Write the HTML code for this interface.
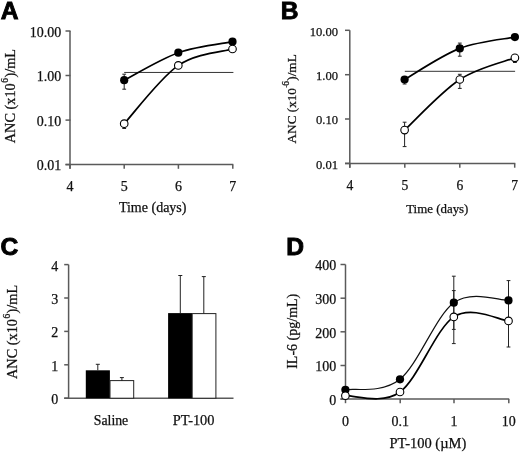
<!DOCTYPE html>
<html><head><meta charset="utf-8"><style>
html,body{margin:0;padding:0;background:#fff;}
body{width:520px;height:452px;overflow:hidden;}
svg{display:block;font-family:"Liberation Serif",serif;fill:#111;}
#wrap{width:520px;height:452px;filter:grayscale(1);}
text{fill:#111;stroke:#111;stroke-width:0.25px;}
</style></head><body>
<div id="wrap"><svg width="520" height="452" viewBox="0 0 520 452">
<rect width="520" height="452" fill="#fff"/>
<text x="0.80" y="19.10" font-family="Liberation Sans" font-weight="bold" font-size="24.6" style="stroke:#000;stroke-width:0.9px;fill:#000">A</text>
<line x1="70.00" y1="31.00" x2="70.00" y2="168.80" stroke="#5a5a5a" stroke-width="1.50"/>
<line x1="65.50" y1="164.60" x2="233.30" y2="164.60" stroke="#5a5a5a" stroke-width="1.50"/>
<line x1="65.50" y1="31.00" x2="70.50" y2="31.00" stroke="#5a5a5a" stroke-width="1.50"/>
<text x="61.20" y="36.80" font-size="14.00" text-anchor="end" >10.00</text>
<line x1="65.50" y1="75.50" x2="70.50" y2="75.50" stroke="#5a5a5a" stroke-width="1.50"/>
<text x="61.20" y="81.30" font-size="14.00" text-anchor="end" >1.00</text>
<line x1="65.50" y1="120.10" x2="70.50" y2="120.10" stroke="#5a5a5a" stroke-width="1.50"/>
<text x="61.20" y="125.90" font-size="14.00" text-anchor="end" >0.10</text>
<line x1="65.50" y1="164.60" x2="70.50" y2="164.60" stroke="#5a5a5a" stroke-width="1.50"/>
<text x="61.20" y="170.40" font-size="14.00" text-anchor="end" >0.01</text>
<line x1="70.00" y1="164.60" x2="70.00" y2="168.80" stroke="#5a5a5a" stroke-width="1.50"/>
<text x="70.00" y="190.70" font-size="14.00" text-anchor="middle" >4</text>
<line x1="124.20" y1="164.60" x2="124.20" y2="168.80" stroke="#5a5a5a" stroke-width="1.50"/>
<text x="124.20" y="190.70" font-size="14.00" text-anchor="middle" >5</text>
<line x1="178.40" y1="164.60" x2="178.40" y2="168.80" stroke="#5a5a5a" stroke-width="1.50"/>
<text x="178.40" y="190.70" font-size="14.00" text-anchor="middle" >6</text>
<line x1="232.80" y1="164.60" x2="232.80" y2="168.80" stroke="#5a5a5a" stroke-width="1.50"/>
<text x="232.80" y="190.70" font-size="14.00" text-anchor="middle" >7</text>
<text x="152.70" y="211.70" font-size="14.00" text-anchor="middle" >Time (days)</text>
<text transform="translate(15,143.2) rotate(-90)" font-size="14.3">ANC (x10<tspan dy="-7" font-size="9.5" dx="0.6">6</tspan><tspan dy="7" dx="0.3">)/mL</tspan></text>
<line x1="124.20" y1="72.45" x2="233.40" y2="72.45" stroke="#333" stroke-width="1.00"/>
<line x1="124.20" y1="74.20" x2="124.20" y2="89.20" stroke="#222" stroke-width="1.00"/>
<line x1="122.30" y1="74.20" x2="126.10" y2="74.20" stroke="#222" stroke-width="1.00"/>
<line x1="122.30" y1="89.20" x2="126.10" y2="89.20" stroke="#222" stroke-width="1.00"/>
<line x1="124.20" y1="123.70" x2="124.20" y2="128.50" stroke="#222" stroke-width="1.00"/>
<line x1="122.30" y1="123.70" x2="126.10" y2="123.70" stroke="#222" stroke-width="1.00"/>
<line x1="122.30" y1="128.50" x2="126.10" y2="128.50" stroke="#222" stroke-width="1.00"/>
<path d="M124.20,80.20 C133.22,75.62 160.25,59.12 178.30,52.70 C196.35,46.28 223.47,43.53 232.50,41.70" fill="none" stroke="#000" stroke-width="1.7"/>
<path d="M124.20,123.70 C133.22,113.98 160.25,77.85 178.30,65.40 C196.35,52.95 223.47,51.73 232.50,49.00" fill="none" stroke="#000" stroke-width="1.7"/>
<circle cx="124.20" cy="80.20" r="4.10" fill="#000"/>
<circle cx="178.30" cy="52.70" r="4.10" fill="#000"/>
<circle cx="232.50" cy="41.70" r="4.10" fill="#000"/>
<circle cx="124.20" cy="123.70" r="3.80" fill="#fff" stroke="#000" stroke-width="1.1"/>
<circle cx="178.30" cy="65.40" r="3.80" fill="#fff" stroke="#000" stroke-width="1.1"/>
<circle cx="232.50" cy="49.00" r="3.80" fill="#fff" stroke="#000" stroke-width="1.1"/>
<text x="280.80" y="18.90" font-family="Liberation Sans" font-weight="bold" font-size="24.6" style="stroke:#000;stroke-width:0.9px;fill:#000">B</text>
<line x1="349.80" y1="30.30" x2="349.80" y2="167.70" stroke="#5a5a5a" stroke-width="1.50"/>
<line x1="345.00" y1="163.40" x2="515.30" y2="163.40" stroke="#5a5a5a" stroke-width="1.50"/>
<line x1="345.00" y1="30.30" x2="349.80" y2="30.30" stroke="#5a5a5a" stroke-width="1.50"/>
<text x="338.00" y="35.70" font-size="12.60" text-anchor="end" >10.00</text>
<line x1="345.00" y1="74.70" x2="349.80" y2="74.70" stroke="#5a5a5a" stroke-width="1.50"/>
<text x="338.00" y="80.10" font-size="12.60" text-anchor="end" >1.00</text>
<line x1="345.00" y1="119.00" x2="349.80" y2="119.00" stroke="#5a5a5a" stroke-width="1.50"/>
<text x="338.00" y="124.40" font-size="12.60" text-anchor="end" >0.10</text>
<line x1="345.00" y1="163.40" x2="349.80" y2="163.40" stroke="#5a5a5a" stroke-width="1.50"/>
<text x="338.00" y="168.80" font-size="12.60" text-anchor="end" >0.01</text>
<line x1="349.80" y1="163.40" x2="349.80" y2="167.70" stroke="#5a5a5a" stroke-width="1.50"/>
<text x="349.80" y="190.30" font-size="13.60" text-anchor="middle" >4</text>
<line x1="404.80" y1="163.40" x2="404.80" y2="167.70" stroke="#5a5a5a" stroke-width="1.50"/>
<text x="404.80" y="190.30" font-size="13.60" text-anchor="middle" >5</text>
<line x1="459.80" y1="163.40" x2="459.80" y2="167.70" stroke="#5a5a5a" stroke-width="1.50"/>
<text x="459.80" y="190.30" font-size="13.60" text-anchor="middle" >6</text>
<line x1="514.70" y1="163.40" x2="514.70" y2="167.70" stroke="#5a5a5a" stroke-width="1.50"/>
<text x="514.70" y="190.30" font-size="13.60" text-anchor="middle" >7</text>
<text x="437.30" y="212.70" font-size="12.90" text-anchor="middle" >Time (days)</text>
<text transform="translate(295.8,143.4) rotate(-90)" font-size="13.2">ANC (x10<tspan dy="-8.2" font-size="7" dx="0.3">-</tspan><tspan dy="1.5" font-size="9.5" dx="-0.2">6</tspan><tspan dy="6.7" dx="0.2">)/mL</tspan></text>
<line x1="404.80" y1="71.30" x2="515.10" y2="71.30" stroke="#333" stroke-width="1.00"/>
<line x1="404.60" y1="79.50" x2="404.60" y2="84.00" stroke="#222" stroke-width="1.00"/>
<line x1="402.70" y1="79.50" x2="406.50" y2="79.50" stroke="#222" stroke-width="1.00"/>
<line x1="402.70" y1="84.00" x2="406.50" y2="84.00" stroke="#222" stroke-width="1.00"/>
<line x1="459.80" y1="43.10" x2="459.80" y2="56.20" stroke="#222" stroke-width="1.00"/>
<line x1="457.90" y1="43.10" x2="461.70" y2="43.10" stroke="#222" stroke-width="1.00"/>
<line x1="457.90" y1="56.20" x2="461.70" y2="56.20" stroke="#222" stroke-width="1.00"/>
<line x1="404.60" y1="122.20" x2="404.60" y2="146.60" stroke="#222" stroke-width="1.00"/>
<line x1="402.70" y1="122.20" x2="406.50" y2="122.20" stroke="#222" stroke-width="1.00"/>
<line x1="402.70" y1="146.60" x2="406.50" y2="146.60" stroke="#222" stroke-width="1.00"/>
<line x1="459.80" y1="74.30" x2="459.80" y2="88.40" stroke="#222" stroke-width="1.00"/>
<line x1="457.90" y1="74.30" x2="461.70" y2="74.30" stroke="#222" stroke-width="1.00"/>
<line x1="457.90" y1="88.40" x2="461.70" y2="88.40" stroke="#222" stroke-width="1.00"/>
<line x1="514.90" y1="57.80" x2="514.90" y2="62.50" stroke="#222" stroke-width="1.00"/>
<line x1="513.00" y1="57.80" x2="516.80" y2="57.80" stroke="#222" stroke-width="1.00"/>
<line x1="513.00" y1="62.50" x2="516.80" y2="62.50" stroke="#222" stroke-width="1.00"/>
<path d="M404.60,79.50 C413.80,74.32 441.42,55.47 459.80,48.40 C478.18,41.33 505.72,38.98 514.90,37.10" fill="none" stroke="#000" stroke-width="1.7"/>
<path d="M404.60,130.10 C413.80,121.67 441.42,91.55 459.80,79.50 C478.18,67.45 505.72,61.42 514.90,57.80" fill="none" stroke="#000" stroke-width="1.7"/>
<circle cx="404.60" cy="79.50" r="4.10" fill="#000"/>
<circle cx="459.80" cy="48.40" r="4.10" fill="#000"/>
<circle cx="514.90" cy="37.10" r="4.10" fill="#000"/>
<circle cx="404.60" cy="130.10" r="3.80" fill="#fff" stroke="#000" stroke-width="1.1"/>
<circle cx="459.80" cy="79.50" r="3.80" fill="#fff" stroke="#000" stroke-width="1.1"/>
<circle cx="514.90" cy="57.80" r="3.80" fill="#fff" stroke="#000" stroke-width="1.1"/>
<text x="0.50" y="255.10" font-family="Liberation Sans" font-weight="bold" font-size="24.6" style="stroke:#000;stroke-width:0.9px;fill:#000">C</text>
<line x1="68.60" y1="264.60" x2="68.60" y2="398.20" stroke="#5a5a5a" stroke-width="1.50"/>
<line x1="64.20" y1="398.20" x2="233.50" y2="398.20" stroke="#5a5a5a" stroke-width="1.50"/>
<line x1="64.20" y1="398.20" x2="68.60" y2="398.20" stroke="#5a5a5a" stroke-width="1.50"/>
<text x="58.30" y="404.10" font-size="14.00" text-anchor="end" >0</text>
<line x1="64.20" y1="364.80" x2="68.60" y2="364.80" stroke="#5a5a5a" stroke-width="1.50"/>
<text x="58.30" y="370.70" font-size="14.00" text-anchor="end" >1</text>
<line x1="64.20" y1="331.40" x2="68.60" y2="331.40" stroke="#5a5a5a" stroke-width="1.50"/>
<text x="58.30" y="337.30" font-size="14.00" text-anchor="end" >2</text>
<line x1="64.20" y1="298.00" x2="68.60" y2="298.00" stroke="#5a5a5a" stroke-width="1.50"/>
<text x="58.30" y="303.90" font-size="14.00" text-anchor="end" >3</text>
<line x1="64.20" y1="264.60" x2="68.60" y2="264.60" stroke="#5a5a5a" stroke-width="1.50"/>
<text x="58.30" y="270.50" font-size="14.00" text-anchor="end" >4</text>
<rect x="85.8" y="370.3" width="24.1" height="28" fill="#000"/>
<rect x="110.0" y="380.6" width="23.7" height="17.6" fill="#fff" stroke="#222" stroke-width="1"/>
<rect x="168.1" y="313.1" width="23.9" height="85.2" fill="#000"/>
<rect x="192.2" y="313.6" width="23.7" height="84.6" fill="#fff" stroke="#222" stroke-width="1"/>
<line x1="97.80" y1="364.30" x2="97.80" y2="370.30" stroke="#222" stroke-width="1.00"/>
<line x1="95.80" y1="364.30" x2="99.80" y2="364.30" stroke="#222" stroke-width="1.00"/>
<line x1="121.90" y1="377.60" x2="121.90" y2="381.00" stroke="#222" stroke-width="1.00"/>
<line x1="119.90" y1="377.60" x2="123.90" y2="377.60" stroke="#222" stroke-width="1.00"/>
<line x1="180.30" y1="275.50" x2="180.30" y2="313.10" stroke="#222" stroke-width="1.00"/>
<line x1="178.30" y1="275.50" x2="182.30" y2="275.50" stroke="#222" stroke-width="1.00"/>
<line x1="203.80" y1="276.60" x2="203.80" y2="313.60" stroke="#222" stroke-width="1.00"/>
<line x1="201.80" y1="276.60" x2="205.80" y2="276.60" stroke="#222" stroke-width="1.00"/>
<text x="111.00" y="424.70" font-size="13.80" text-anchor="middle" >Saline</text>
<text x="193.60" y="424.80" font-size="14.40" text-anchor="middle" >PT-100</text>
<text transform="translate(16.6,379) rotate(-90)" font-size="14.3">ANC (x10<tspan dy="-7" font-size="9.5" dx="0.6">6</tspan><tspan dy="7" dx="0.3">)/mL</tspan></text>
<text x="286.30" y="255.00" font-family="Liberation Sans" font-weight="bold" font-size="24.6" style="stroke:#000;stroke-width:0.9px;fill:#000">D</text>
<line x1="345.50" y1="264.50" x2="345.50" y2="399.10" stroke="#5a5a5a" stroke-width="1.50"/>
<line x1="340.50" y1="399.10" x2="509.20" y2="399.10" stroke="#5a5a5a" stroke-width="1.50"/>
<line x1="340.50" y1="399.10" x2="345.50" y2="399.10" stroke="#5a5a5a" stroke-width="1.50"/>
<text x="336.30" y="405.00" font-size="14.00" text-anchor="end" >0</text>
<line x1="340.50" y1="365.50" x2="345.50" y2="365.50" stroke="#5a5a5a" stroke-width="1.50"/>
<text x="336.30" y="371.40" font-size="14.00" text-anchor="end" >100</text>
<line x1="340.50" y1="331.80" x2="345.50" y2="331.80" stroke="#5a5a5a" stroke-width="1.50"/>
<text x="336.30" y="337.70" font-size="14.00" text-anchor="end" >200</text>
<line x1="340.50" y1="298.20" x2="345.50" y2="298.20" stroke="#5a5a5a" stroke-width="1.50"/>
<text x="336.30" y="304.10" font-size="14.00" text-anchor="end" >300</text>
<line x1="340.50" y1="264.50" x2="345.50" y2="264.50" stroke="#5a5a5a" stroke-width="1.50"/>
<text x="336.30" y="270.40" font-size="14.00" text-anchor="end" >400</text>
<line x1="345.50" y1="399.10" x2="345.50" y2="403.20" stroke="#5a5a5a" stroke-width="1.50"/>
<text x="345.50" y="425.60" font-size="14.00" text-anchor="middle" >0</text>
<line x1="400.20" y1="399.10" x2="400.20" y2="403.20" stroke="#5a5a5a" stroke-width="1.50"/>
<text x="400.20" y="425.60" font-size="14.00" text-anchor="middle" >0.1</text>
<line x1="454.00" y1="399.10" x2="454.00" y2="403.20" stroke="#5a5a5a" stroke-width="1.50"/>
<text x="454.00" y="425.60" font-size="14.00" text-anchor="middle" >1</text>
<line x1="508.80" y1="399.10" x2="508.80" y2="403.20" stroke="#5a5a5a" stroke-width="1.50"/>
<text x="508.80" y="425.60" font-size="14.00" text-anchor="middle" >10</text>
<text x="427.90" y="447.90" font-size="14.50" text-anchor="middle" >PT-100 (µM)</text>
<text transform="translate(296.8,368.8) rotate(-90)" font-size="14">IL-6 (pg/mL)</text>
<line x1="453.80" y1="276.20" x2="453.80" y2="329.40" stroke="#222" stroke-width="1.00"/>
<line x1="451.90" y1="276.20" x2="455.70" y2="276.20" stroke="#222" stroke-width="1.00"/>
<line x1="451.90" y1="329.40" x2="455.70" y2="329.40" stroke="#222" stroke-width="1.00"/>
<line x1="453.80" y1="290.60" x2="453.80" y2="343.60" stroke="#222" stroke-width="1.00"/>
<line x1="451.90" y1="290.60" x2="455.70" y2="290.60" stroke="#222" stroke-width="1.00"/>
<line x1="451.90" y1="343.60" x2="455.70" y2="343.60" stroke="#222" stroke-width="1.00"/>
<line x1="508.50" y1="280.60" x2="508.50" y2="347.00" stroke="#222" stroke-width="1.00"/>
<line x1="506.60" y1="280.60" x2="510.40" y2="280.60" stroke="#222" stroke-width="1.00"/>
<line x1="506.60" y1="347.00" x2="510.40" y2="347.00" stroke="#222" stroke-width="1.00"/>
<path d="M345.40,389.80 C354.50,388.05 381.93,393.82 400.00,379.30 C418.07,364.78 435.72,315.85 453.80,302.70 C471.88,289.55 499.38,300.78 508.50,300.40" fill="none" stroke="#111" stroke-width="1.2"/>
<path d="M345.40,395.70 C354.50,395.08 381.93,405.13 400.00,392.00 C418.07,378.87 435.72,328.75 453.80,316.90 C471.88,305.05 499.38,320.23 508.50,320.90" fill="none" stroke="#000" stroke-width="1.7"/>
<circle cx="345.40" cy="389.80" r="4.10" fill="#000"/>
<circle cx="400.00" cy="379.30" r="4.10" fill="#000"/>
<circle cx="453.80" cy="302.70" r="4.10" fill="#000"/>
<circle cx="508.50" cy="300.40" r="4.10" fill="#000"/>
<circle cx="345.40" cy="395.70" r="3.80" fill="#fff" stroke="#000" stroke-width="1.1"/>
<circle cx="400.00" cy="392.00" r="3.80" fill="#fff" stroke="#000" stroke-width="1.1"/>
<circle cx="453.80" cy="316.90" r="3.80" fill="#fff" stroke="#000" stroke-width="1.1"/>
<circle cx="508.50" cy="320.90" r="3.80" fill="#fff" stroke="#000" stroke-width="1.1"/>
</svg></div>
</body></html>
